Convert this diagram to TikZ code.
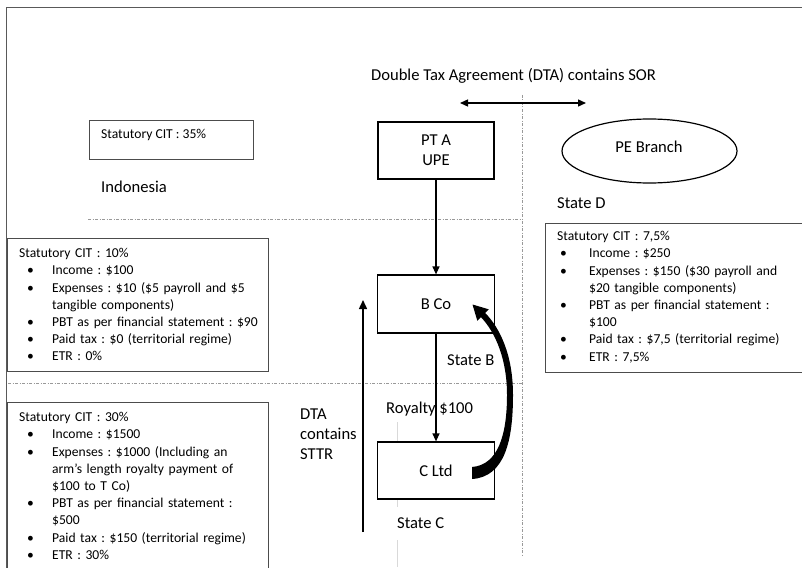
\documentclass[tikz,border=0pt]{standalone}
\usepackage{fontspec}
\setmainfont{Carlito}
\usetikzlibrary{arrows.meta,shapes.geometric}
\frenchspacing
\newcommand\bl{\hspace*{8pt}\makebox[25pt][l]{\textbullet}}
\newcommand\cnt{\hspace*{33pt}}
\newcommand\blr{\hspace*{3pt}\makebox[29pt][l]{\textbullet}}
\newcommand\cntr{\hspace*{32pt}}
\begin{document}
\begin{tikzpicture}[x=1pt,y=-1pt,
  big/.style={font=\fontsize{16.6}{20}\selectfont\frenchspacing, inner sep=0, text=black},
  small/.style={font=\fontsize{13.6}{17.2}\selectfont\frenchspacing, inner sep=0, text=black, text width=255pt, align=left, anchor=north west},
  infobox/.style={draw=black!70, line width=0.9pt, anchor=north west, inner sep=0},
  entity/.style={draw=black, line width=1.2pt, minimum width=116pt, minimum height=57pt, font=\fontsize{16.6}{20}\selectfont, text=black, align=center, inner sep=0},
  guide/.style={draw=black!40, line width=0.7pt, dash pattern=on 3pt off 1.5pt on 1pt off 1.5pt},
  thinarrow/.style={-{Triangle[length=8pt,width=7pt]}, line width=1.2pt},
  thickarrow/.style={{Triangle[length=8pt,width=7pt]}-{Triangle[length=8pt,width=7pt]}, line width=1.4pt},
]
\useasboundingbox (0,0) rectangle (802,567);
\fill[white] (0,0) rectangle (802,567);

% frame
\draw[black!65, line width=1pt] (6,575) -- (6,8) -- (810,8);

% guide lines
\draw[guide] (88,219) -- (522,219);
\draw[guide] (8,383) -- (522,383);
\draw[guide] (522,95) -- (522,555);
\draw[black!15, line width=0.8pt] (397,422) -- (397,442);
\draw[black!15, line width=0.8pt] (397,500) -- (397,507);
\draw[black!15, line width=0.8pt] (397,540) -- (397,567);

% title and double arrow
\node[big, anchor=base] (dta) at (513.5,81) {Double Tax Agreement (DTA) contains SOR};
\coordinate (dl) at (460,103);
\coordinate (dr) at (586,103);
\draw[thickarrow] (dl) -- (dr);

% Indonesia
\node[infobox, minimum width=164pt, minimum height=39pt] (cit35) at (89,120) {};
\node[font=\fontsize{13.6}{17.2}\selectfont\frenchspacing, inner sep=0, text=black, anchor=base west] (cit35t) at (101,138.5) {Statutory CIT : 35\%};
\node[big, anchor=base west] (indo) at (101,192) {Indonesia};

% entities
\node[entity] (pta) at (436,150.5) {PT A\\UPE};
\node[draw=black, line width=1.2pt, ellipse, minimum width=175pt, minimum height=64pt, inner sep=0] (pe) at (649.5,151) {};
\node[big, anchor=base] (pet) at (649,152.5) {PE Branch};
\node[big, anchor=base west] (stD) at (557,208) {State D};

\node[entity, minimum width=117pt, minimum height=58pt] (bco) at (436,304) {B Co};
\node[entity, minimum width=117pt] (cltd) at (436,470.5) {C Ltd};

% info boxes
\node[infobox, minimum width=261pt, minimum height=133pt] (boxB) at (7,238) {};
\node[small] (boxBt) at (19,245.5) {\noindent\strut Statutory CIT : 10\%\\
\bl Income : \$100\\
\bl Expenses : \$10 (\$5 payroll and \$5\\
\cnt tangible components)\\
\bl PBT as per financial statement : \$90\\
\bl Paid tax : \$0 (territorial regime)\\
\bl ETR : 0\%};

\node[infobox, minimum width=261pt, minimum height=175pt] (boxC) at (7,402) {};
\node[small] (boxCt) at (19,409.5) {\noindent\strut Statutory CIT : 30\%\\
\bl Income : \$1500\\
\bl Expenses : \$1000 (Including an\\
\cnt arm’s length royalty payment of\\
\cnt \$100 to T Co)\\
\bl PBT as per financial statement :\\
\cnt \$500\\
\bl Paid tax : \$150 (territorial regime)\\
\bl ETR : 30\%};

\node[infobox, minimum width=265pt, minimum height=149pt] (boxD) at (545,223) {};
\node[small] (boxDt) at (557,228.5) {\noindent\strut Statutory CIT : 7,5\%\\
\blr Income : \$250\\
\blr Expenses : \$150 (\$30 payroll and\\
\cntr \$20 tangible components)\\
\blr PBT as per financial statement :\\
\cntr \$100\\
\blr Paid tax : \$7,5 (territorial regime)\\
\blr ETR : 7,5\%};

% labels
\node[big, anchor=base west] (stB) at (447,365) {State B};
\node[big, anchor=base west] (stC) at (397,528) {State C};
\node[big, text width=80pt, align=left, anchor=north west] (sttr) at (300,405.6) {\noindent\strut DTA\\contains\\STTR};

% arrows
\draw[thinarrow] (pta.south) -- (pta.south |- bco.north);
\draw[thinarrow] (bco.south) -- (cltd.north);
\node[big, anchor=base west] (roy) at (386,413) {Royalty \$100};

\coordinate (sb) at (363,532);
\coordinate (st) at (363,300);
\draw[-{Triangle[length=9pt,width=8pt]}, line width=1.5pt] (sb) -- (st);

% curved royalty arrow (tapered)
\fill[black] (485.1,312.9) .. controls (500,328) and (513,355) .. (513,395)
  .. controls (513,440) and (505,477) .. (472,479)
  -- (472,467)
  .. controls (498,465) and (507,435) .. (507,395)
  .. controls (507,360) and (496,333) .. (480.9,317.1)
  -- (477.3,320.7) -- (472.5,304.5) -- (488.7,309.3) -- cycle;
\end{tikzpicture}
\end{document}
